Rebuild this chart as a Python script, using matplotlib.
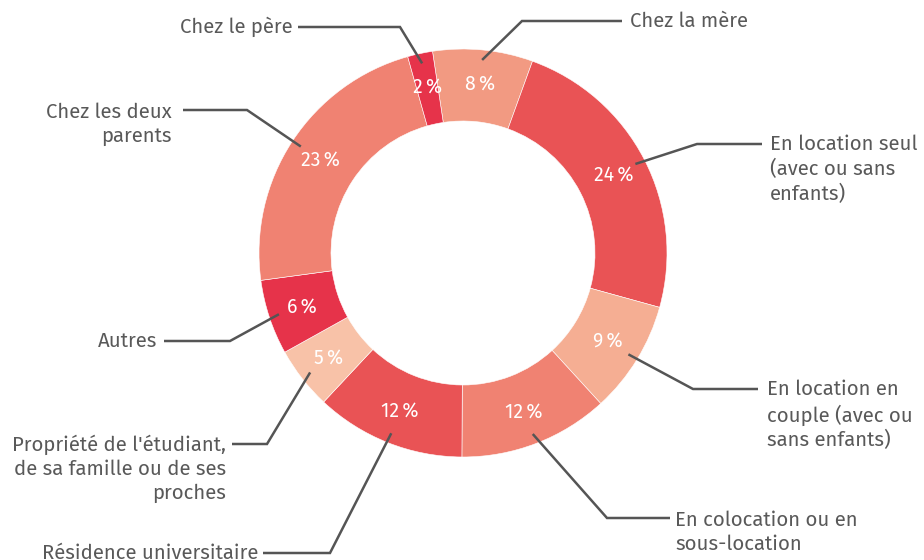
import numpy as np
import matplotlib
matplotlib.use("Agg")
import matplotlib.pyplot as plt

plt.rcParams['font.family'] = ['Fira Sans', 'Noto Sans', 'DejaVu Sans']

# ---- data ----
categories = ["Chez la mère",
              "En location seul\n(avec ou sans\nenfants)",
              "En location en\ncouple (avec ou\nsans enfants)",
              "En colocation ou en\nsous-location",
              "Résidence universitaire",
              "Propriété de l'étudiant,\nde sa famille ou de ses\nproches",
              "Autres",
              "Chez les deux\nparents",
              "Chez le père"]
values = [8, 24, 9, 12, 12, 5, 6, 23, 2]
pct_labels = ["8\u2009%", "24\u2009%", "9\u2009%", "12\u2009%", "12\u2009%",
              "5\u2009%", "6\u2009%", "23\u2009%", "2\u2009%"]
colors = ["#F29A82", "#E95355", "#F5AE93", "#F08272", "#E95355",
          "#F8C2A8", "#E6334A", "#F08272", "#E6334A"]

# ---- layout (pixel coordinates, y measured from top) ----
W, H = 924, 560
CX, CY = 463, 253
R, RING = 204, 72
elbows = [(522, 21), (697, 144), (693, 389), (607, 518), (330, 553),
          (267, 444), (230, 341), (247, 110), (400, 27)]
line_ends = [(622, 21), (762, 144), (758, 389), (670, 518), (263, 553),
             (232, 444), (164, 341), (183, 110), (298, 27)]
text_pos = [(630, 21, 'left'), (770, 143, 'left'), (767, 389, 'left'),
            (675, 519, 'left'), (258, 553, 'right'), (226, 443, 'right'),
            (157, 341, 'right'), (172, 111, 'right'), (293, 27, 'right')]
LINE_SP = 26

fig = plt.figure(figsize=(W / 100, H / 100), dpi=100)
ax = fig.add_axes([0, 0, 1, 1])

wedges, _ = ax.pie(values, colors=colors, startangle=98.6, counterclock=False,
                   center=(CX, H - CY), radius=R,
                   wedgeprops=dict(width=RING, edgecolor='white', linewidth=0.4))
ax.set_xlim(0, W)
ax.set_ylim(0, H)
ax.set_aspect('equal')
ax.axis('off')

line_col = "#555555"
text_col = "#595959"
for i, w in enumerate(wedges):
    mid = np.deg2rad((w.theta1 + w.theta2) / 2)
    rp = R - RING / 2 + 2
    ax.text(CX + rp * np.cos(mid), H - CY + rp * np.sin(mid), pct_labels[i],
            color='white', fontsize=14, ha='center', va='center')
    re = R - 10
    ex, ey = CX + re * np.cos(mid), H - CY + re * np.sin(mid)
    bx, by = elbows[i]
    lx, ly = line_ends[i]
    ax.plot([ex, bx, lx], [ey, H - by, H - ly], color=line_col, lw=1.8,
            solid_joinstyle='miter', solid_capstyle='butt')
    tx, ty, ha = text_pos[i]
    n = categories[i].count("\n") + 1
    yc = ty + (n - 1) * LINE_SP / 2
    ax.text(tx, H - yc, categories[i], ha=ha, va='center', color=text_col,
            fontsize=14.7, linespacing=1.3, multialignment=ha)

fig.savefig("out.png", dpi=100)
